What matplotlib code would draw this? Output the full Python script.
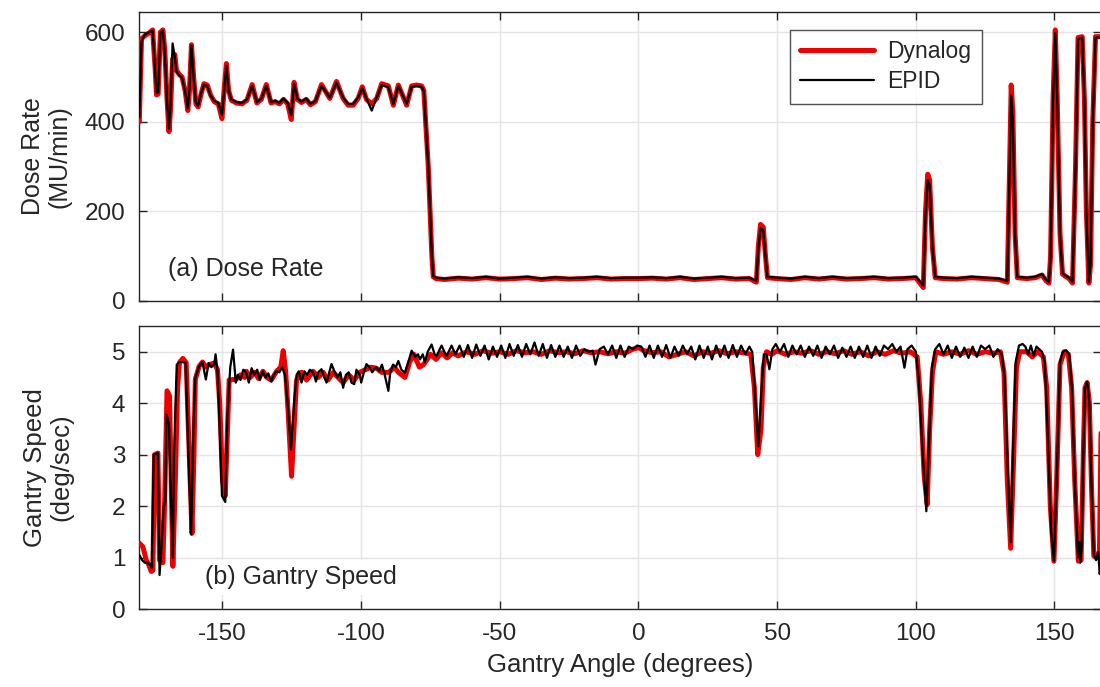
import matplotlib
matplotlib.use("Agg")
import matplotlib.pyplot as plt

plt.rcParams['font.family'] = ['Liberation Sans', 'DejaVu Sans']
plt.rcParams['axes.unicode_minus'] = False

# ---------------- data ----------------
DR_ANGLE = [-180, -179.2, -178, -176.5, -175.2, -174.3, -173.8, -173.2, -172.4, -171.5,
            -170.8, -170, -169.3, -168.8, -168, -167.2, -166.6, -165.5, -164.6, -163.5,
            -162.5, -161.9, -161.2, -160.4, -159.6, -158.8, -157.8, -156.7, -155.5, -154.3,
            -153, -151.5, -150.2, -149.3, -148.6, -147.8, -146.8, -145, -143, -141.2,
            -139.3, -137.6, -136, -134.2, -132.5, -131, -129.5, -128, -126.5, -125.2,
            -124.2, -123, -121.5, -119.8, -118.3, -116.5, -114.3, -111.3, -108.9, -106.5,
            -104.7, -102.9, -101.1, -99.6, -98.1, -96.2, -94.4, -92.6, -90.2, -88.4,
            -86.6, -83.6, -81.8, -80, -78.2, -77.4, -75.8, -74.5, -74, -73,
            -70, -65, -60, -55, -50, -45, -40, -35, -30, -25,
            -20, -15, -10, -5, 0, 5, 10, 15, 20, 25,
            30, 35, 40, 42.5, 43.2, 44, 45, 45.8, 46.5, 50,
            55, 60, 65, 70, 75, 80, 85, 90, 95, 100,
            102.7, 103.5, 104.3, 105, 106, 107, 110, 115, 120, 125,
            130, 133, 133.8, 134.4, 135, 135.8, 136.6, 140, 143, 145.5,
            147, 148, 148.6, 149.5, 150.3, 151, 152, 152.9, 154, 155.3,
            156.5, 157.6, 158.5, 160, 160.8, 161.5, 162.4, 163, 163.8, 164.8,
            167]
DR_DYNALOG = [400, 585, 592, 598, 605, 520, 460, 462, 600, 605,
              560, 450, 378, 420, 540, 550, 515, 505, 500, 470,
              425, 470, 572, 500, 440, 433, 460, 485, 482, 460,
              445, 440, 407, 480, 530, 470, 448, 442, 440, 448,
              483, 442, 450, 483, 442, 445, 440, 450, 440, 405,
              488, 450, 443, 450, 438, 445, 483, 452, 490, 452,
              437, 437, 452, 478, 450, 440, 452, 485, 480, 437,
              482, 437, 480, 482, 480, 470, 300, 100, 54, 50,
              48, 51, 49, 52, 49, 50, 52, 48, 51, 49,
              50, 52, 49, 50, 50, 51, 49, 52, 48, 50,
              52, 49, 50, 42, 120, 171, 165, 100, 52, 50,
              48, 52, 49, 52, 49, 50, 52, 49, 50, 52,
              30, 200, 283, 270, 120, 52, 50, 49, 52, 50,
              48, 42, 300, 482, 420, 150, 52, 50, 52, 58,
              45, 40, 100, 450, 605, 450, 150, 60, 55, 50,
              40, 300, 588, 590, 450, 200, 40, 80, 400, 590,
              590]
DR_EPID = [410, 580, 595, 600, 603, 515, 465, 465, 598, 603,
           555, 445, 385, 430, 575, 545, 512, 503, 498, 468,
           430, 475, 570, 498, 442, 436, 462, 483, 480, 458,
           447, 442, 415, 478, 525, 468, 450, 444, 442, 450,
           480, 444, 452, 480, 444, 447, 442, 452, 442, 415,
           485, 452, 445, 452, 440, 447, 480, 454, 487, 454,
           440, 440, 454, 475, 452, 425, 454, 482, 477, 440,
           480, 440, 478, 480, 478, 468, 300, 100, 56, 52,
           50, 53, 51, 54, 50, 52, 54, 50, 53, 51,
           52, 54, 51, 52, 52, 53, 51, 54, 50, 52,
           54, 51, 52, 45, 115, 163, 158, 98, 54, 52,
           50, 54, 51, 54, 51, 52, 54, 51, 52, 54,
           35, 190, 270, 260, 118, 54, 52, 51, 54, 52,
           50, 45, 290, 459, 400, 145, 54, 52, 54, 60,
           47, 43, 100, 445, 598, 445, 145, 62, 57, 52,
           43, 295, 585, 588, 445, 195, 43, 82, 395, 588,
           588]

SP_DYN_ANGLE = [-180, -178.7, -177.5, -176.5, -175.7, -175.1, -174.5, -173.3, -172.7, -171.5,
                -170.9, -170, -169.1, -168.5, -167.9, -167, -166.2, -165.5, -164.3, -163.1,
                -162.3, -161, -160.3, -159.8, -158.4, -157.2, -156, -154.8, -153, -151.8,
                -151, -150, -149, -148.2, -147.6, -146.2, -145.2, -143.5, -142, -141.4,
                -140, -138.4, -137, -135.4, -134, -132.4, -130.5, -129, -128.1, -127.2,
                -126.3, -125.1, -124.2, -123.3, -121.5, -119.7, -117.3, -115.5, -113.7, -112,
                -110, -108, -106.5, -104.5, -102.5, -100.5, -98.5, -96.5, -94.5, -92.6,
                -90, -88, -86.6, -84.2, -82.5, -81, -79, -77.5, -75, -73,
                -71, -69, -67, -65, -62, -59, -56, -53, -50, -47,
                -44, -41, -38, -35, -32, -29, -26, -23, -20, -17,
                -14, -11, -8, -5, -2, 0, 2, 5, 8, 11,
                14, 17, 20, 23, 26, 29, 32, 35, 38, 40.5,
                41.8, 43, 44.2, 45, 46.2, 48, 50, 53, 56, 59,
                62, 65, 68, 71, 74, 77, 80, 83, 86, 89,
                92, 95, 98, 100.5, 101.8, 103, 104.1, 105, 106, 107.2,
                110, 113, 116, 119, 122, 125, 128, 130.5, 131.8, 133,
                134.2, 135.2, 136.3, 137.5, 140, 142, 144, 146, 147.2, 148.5,
                149.8, 150.8, 152, 153.5, 155, 156.2, 157.3, 158.6, 159.6, 160.4,
                161, 161.8, 162.6, 163.4, 164.2, 165.4, 166.2, 166.8]
SP_DYNALOG = [1.28, 1.21, 0.95, 0.85, 0.73, 0.75, 3.0, 3.03, 0.95, 0.9,
              2.0, 4.24, 4.14, 2.5, 0.83, 2.5, 4.3, 4.79, 4.87, 4.79,
              3.5, 1.47, 3.0, 4.46, 4.72, 4.8, 4.7, 4.75, 4.78, 4.65,
              4.0, 2.5, 2.2, 3.5, 4.45, 4.46, 4.46, 4.55, 4.5, 4.62,
              4.5, 4.6, 4.48, 4.62, 4.5, 4.45, 4.62, 4.7, 5.02, 4.6,
              3.8, 2.58, 3.5, 4.45, 4.6, 4.45, 4.62, 4.5, 4.6, 4.45,
              4.6, 4.48, 4.4, 4.55, 4.45, 4.6, 4.65, 4.7, 4.68, 4.6,
              4.6, 4.7, 4.6, 4.5, 4.8, 4.95, 4.7, 4.75, 4.95, 4.85,
              4.98, 4.88, 4.98, 4.92, 5.0, 4.95, 5.02, 4.97, 5.0, 4.95,
              5.02, 4.98, 5.0, 4.95, 5.02, 4.98, 5.0, 4.96, 5.02, 4.98,
              5.0, 4.96, 5.0, 4.97, 5.05, 5.08, 5.02, 4.98, 5.0, 4.9,
              4.95, 5.0, 4.92, 5.0, 4.97, 5.02, 4.96, 5.0, 4.98, 4.95,
              4.3, 3.0, 3.5, 4.7, 5.0, 4.95, 5.02, 4.95, 5.0, 4.97,
              5.02, 4.95, 5.0, 4.96, 5.02, 4.95, 5.0, 4.92, 5.0, 4.95,
              5.02, 4.97, 5.0, 4.9, 4.0, 2.6, 2.03, 3.5, 4.6, 5.0,
              4.95, 5.0, 4.95, 5.02, 4.95, 5.0, 4.97, 5.0, 4.6, 2.5,
              1.18, 2.8, 4.7, 5.0, 5.0, 4.9, 5.0, 4.9, 4.3, 2.0,
              0.93, 2.5, 4.75, 5.0, 4.95, 4.3, 2.5, 0.93, 0.95, 3.0,
              4.3, 4.4, 4.0, 2.3, 1.03, 1.07, 1.0, 3.5]

SP_EPID_ANGLE = [-180, -179, -178, -177, -176, -175.5, -174.8, -173.3, -172.7, -172,
                 -171.2, -170.6, -170.2, -169.3, -168.5, -167.9, -167.5, -166.5, -165.5, -164.3,
                 -163.3, -162.3, -161.3, -160.5, -159.8, -158.4, -157.2, -156.6, -156, -155,
                 -154, -153, -152.5, -151.8, -151, -150.2, -149, -148.2, -147.2, -146.2,
                 -145.2, -144.5, -143.5, -142.5, -141.5, -140.5, -139.5, -138.5, -137.5, -136.5,
                 -135.5, -134.5, -133.5, -132.4, -131.5, -130.5, -129.5, -128.5, -127.5, -126.5,
                 -125.3, -124.2, -123.3, -122.5, -121.5, -120.5, -119.5, -118.5, -117.3, -116.3,
                 -115.5, -114.3, -113.3, -112.5, -111.5, -110.7, -109.5, -108.5, -107.5, -106.5,
                 -105.5, -104.5, -103.5, -102.5, -101.7, -100.5, -100, -99, -98.1, -97,
                 -96, -95, -94.6, -93.5, -92.5, -91.5, -90.2, -89.5, -88.5, -87.5,
                 -86.6, -85.5, -84.2, -83, -81.8, -80.5, -79.5, -78.8, -77.8, -77,
                 -76, -74.6, -73.5, -72.8, -71, -70, -69.2, -68, -67.4, -66,
                 -64.5, -63, -61.5, -60, -58.5, -57, -55.5, -54, -52.5, -51,
                 -49.5, -48, -46.5, -45, -43.5, -42, -40.5, -39, -37.5, -36,
                 -34.5, -33, -31.5, -30, -28.5, -27, -25.5, -24, -22.5, -21,
                 -19.5, -18, -16.5, -15.5, -14, -12.5, -11, -9.5, -8, -6.5,
                 -5, -3.5, -2, -0.5, 1, 2.5, 4, 5.5, 7, 8.5,
                 10, 11.5, 13, 14.5, 16, 17.5, 19, 20.5, 22, 23.5,
                 25, 26.5, 28, 29.5, 31, 32.5, 34, 35.5, 37, 38.5,
                 40, 41, 42, 43.2, 44.3, 45.2, 46.2, 47.2, 48.3, 49.5,
                 51, 52.5, 54, 55.5, 57, 58.5, 60, 61.5, 63, 64.5,
                 66, 67.5, 69, 70.5, 72, 73.5, 75, 76.5, 78, 79.5,
                 81, 82.5, 84, 85.5, 87, 88.5, 90, 91.5, 93, 94.5,
                 95.9, 97, 98.5, 100, 101, 102.5, 103.8, 104.8, 105.8, 107,
                 108.5, 110, 111.5, 113, 114.5, 116, 117.5, 119, 120.5, 122,
                 123.5, 125, 126.5, 128, 129.5, 131, 132, 133.3, 134.2, 135,
                 136, 137.2, 138.5, 139.5, 140.5, 141.5, 142.5, 143.5, 144.5, 145.5,
                 146.5, 147.5, 148.8, 149.8, 150.8, 152, 153, 154.2, 155.3, 156.3,
                 157.3, 158.5, 159, 159.3, 159.8, 160.4, 161, 161.8, 162.6, 163.3,
                 164.2, 165, 165.8, 166.3, 167]
SP_EPID = [1.05, 0.95, 0.9, 0.9, 0.85, 0.8, 3.0, 3.03, 0.66, 1.2,
           2.0, 2.1, 3.78, 3.6, 2.0, 1.0, 3.0, 4.75, 4.8, 4.8,
           4.78, 3.0, 1.45, 3.5, 4.5, 4.72, 4.8, 4.62, 4.46, 4.78,
           4.7, 4.75, 4.95, 4.62, 3.5, 2.2, 2.08, 3.8, 4.7, 5.04,
           4.4, 4.55, 4.45, 4.65, 4.6, 4.4, 4.68, 4.55, 4.65, 4.45,
           4.62, 4.5, 4.58, 4.42, 4.55, 4.62, 4.6, 4.7, 4.55, 4.0,
           3.1, 4.0, 4.55, 4.62, 4.4, 4.62, 4.55, 4.65, 4.6, 4.42,
           4.6, 4.66, 4.5, 4.4, 4.6, 4.76, 4.6, 4.5, 4.6, 4.3,
           4.55, 4.6, 4.4, 4.37, 4.65, 4.55, 4.4, 4.6, 4.76, 4.7,
           4.6, 4.68, 4.7, 4.62, 4.75, 4.55, 4.24, 4.6, 4.75, 4.7,
           4.82, 4.65, 4.59, 4.8, 5.02, 4.9, 4.95, 4.85, 4.95, 4.8,
           5.0, 5.14, 4.95, 4.92, 5.12, 5.0, 4.92, 5.05, 5.12, 4.95,
           5.12, 4.9, 5.13, 4.88, 5.14, 4.92, 5.12, 4.85, 5.1, 4.9,
           5.12, 4.88, 5.15, 4.92, 5.13, 4.9, 5.15, 4.95, 5.18, 4.92,
           5.15, 4.88, 5.13, 4.9, 5.12, 4.9, 5.1, 4.88, 5.12, 4.92,
           5.05, 5.0, 5.02, 4.75, 5.05, 5.1, 4.95, 5.12, 4.88, 5.12,
           4.9, 5.1, 5.05, 5.12, 5.1, 4.9, 5.12, 4.88, 5.12, 4.9,
           5.13, 4.88, 5.1, 4.92, 5.12, 4.95, 5.1, 4.85, 5.12, 4.88,
           5.1, 4.85, 5.12, 4.9, 5.12, 4.88, 5.13, 4.9, 5.12, 4.95,
           5.1, 5.0, 4.2, 3.16, 4.2, 4.95, 4.95, 4.66, 5.05, 5.15,
           5.0, 5.15, 4.9, 5.12, 4.95, 5.12, 4.9, 5.1, 4.92, 5.12,
           4.88, 5.1, 4.95, 5.12, 4.88, 5.08, 4.9, 5.1, 4.88, 5.1,
           4.9, 5.12, 4.88, 5.1, 4.92, 5.12, 5.05, 5.15, 5.0, 5.1,
           4.69, 5.05, 5.12, 5.0, 4.5, 3.0, 1.9, 3.3, 4.7, 5.05,
           5.15, 4.95, 5.12, 4.88, 5.1, 4.9, 5.08, 4.88, 5.1, 4.9,
           5.12, 5.05, 5.12, 4.9, 5.05, 4.95, 4.5, 2.5, 1.3, 3.0,
           4.8, 5.12, 5.15, 5.1, 4.95, 5.12, 4.92, 5.1, 5.05, 5.0,
           4.8, 3.5, 1.5, 0.93, 2.5, 4.8, 5.0, 5.03, 4.95, 4.3,
           2.5, 1.0, 1.3, 0.9, 1.2, 3.0, 4.3, 4.42, 4.0, 2.5,
           1.05, 0.95, 1.1, 0.68, 0.9]

X_TICKS = [-150, -100, -50, 0, 50, 100, 150]
DR_TICKS = [0, 200, 400, 600]
SP_TICKS = [0, 1, 2, 3, 4, 5]

# ---------------- figure ----------------
W, H = 1100, 687
fig = plt.figure(figsize=(W / 100, H / 100), dpi=100)

def px_axes(left, top, right, bottom):
    return fig.add_axes([left / W, 1 - bottom / H, (right - left) / W, (bottom - top) / H])

ax1 = px_axes(139.3, 12, 1100.5, 301)
ax2 = px_axes(139.3, 326, 1100.5, 609)

RED = '#ee0000'
TXT = '#262626'
for ax in (ax1, ax2):
    ax.set_xlim(-180, 166.6)
    ax.set_xticks(X_TICKS)
    ax.grid(True, color='#e4e4e4', linewidth=1.0)
    ax.set_axisbelow(True)
    ax.tick_params(direction='in', top=True, right=True, length=6, width=1,
                   color=TXT, labelcolor=TXT, labelsize=17.5, pad=10)
    for s in ax.spines.values():
        s.set_color(TXT)
        s.set_linewidth(1.0)

line_kw = dict(solid_joinstyle='round', solid_capstyle='round')
ax1.plot(DR_ANGLE, DR_DYNALOG, color=RED, lw=3.6, label='Dynalog', zorder=3, **line_kw)
ax1.plot(DR_ANGLE, DR_EPID, color='black', lw=1.6, label='EPID', zorder=4, **line_kw)
ax1.set_ylim(0, 645)
ax1.set_yticks(DR_TICKS)
ax1.tick_params(labelbottom=False)
ax1.set_ylabel('Dose Rate\n(MU/min)', fontsize=18, color=TXT, linespacing=1.1)
ax1.yaxis.set_label_coords(-68 / 961, 0.5)
ax1.text(-169.6, 72, '(a) Dose Rate', fontsize=18, color=TXT, ha='left', va='center', zorder=5)
leg = ax1.legend(loc='upper left', bbox_to_anchor=(790 / W, 1 - 30 / H),
                 bbox_transform=fig.transFigure, fontsize=16.5, handlelength=3.2,
                 frameon=True, fancybox=False, borderpad=0.45, labelspacing=0.3,
                 handletextpad=0.6, borderaxespad=0)
leg.get_frame().set_edgecolor(TXT)
leg.get_frame().set_linewidth(1.0)
for t in leg.get_texts():
    t.set_color(TXT)

ax2.plot(SP_DYN_ANGLE, SP_DYNALOG, color=RED, lw=3.6, zorder=3, **line_kw)
ax2.plot(SP_EPID_ANGLE, SP_EPID, color='black', lw=1.6, zorder=4, **line_kw)
ax2.set_ylim(0, 5.5)
ax2.set_yticks(SP_TICKS)
ax2.set_ylabel('Gantry Speed\n(deg/sec)', fontsize=18.5, color=TXT, linespacing=1.1)
ax2.yaxis.set_label_coords(-66 / 961, 0.5)
ax2.set_xlabel('Gantry Angle (degrees)', fontsize=18.5, color=TXT, labelpad=6)
ax2.text(-156.2, 0.62, '(b) Gantry Speed', fontsize=18, color=TXT, ha='left', va='center',
         zorder=5, bbox=dict(facecolor='white', edgecolor='none', pad=4))

fig.savefig('out.png', dpi=100)
